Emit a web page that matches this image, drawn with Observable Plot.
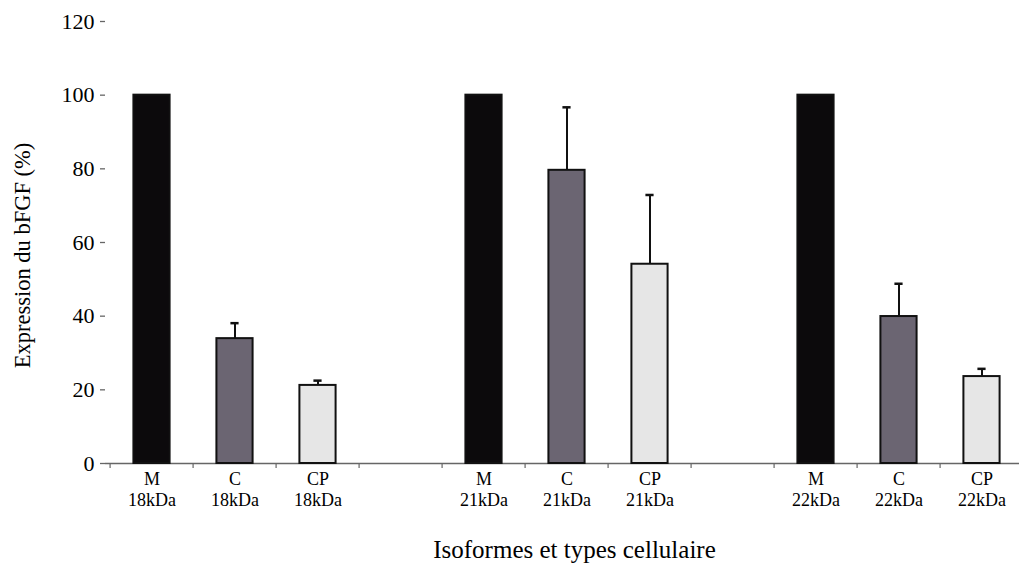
<!DOCTYPE html>
<html>
<head>
<meta charset="utf-8">
<script src="https://cdn.jsdelivr.net/npm/d3@7"></script>
<script src="https://cdn.jsdelivr.net/npm/@observablehq/plot@0.6"></script>
<style>
  html, body { margin: 0; padding: 0; background: #fff; }
</style>
</head>
<body>
<div id="chart"></div>
<script>
// ---- data ----
const isoforms = ["18kDa", "21kDa", "22kDa"];
const cellTypes = ["M", "C", "CP"];
const valuesM = [100, 100, 100];
const valuesC = [33.9, 79.6, 39.9];
const valuesCP = [21.2, 54.1, 23.6];
const errorsC = [4.2, 17.1, 8.9];
const errorsCP = [1.3, 18.8, 2.1];
const yTicks = [0, 20, 40, 60, 80, 100, 120];
const yLabel = "Expression du bFGF (%)";
const xLabel = "Isoformes et types cellulaire";

// ---- styles ----
const fills = { M: "#0c0a0c", C: "#6b6572", CP: "#e6e6e6" };

// ---- build table ----
const valueSets = { M: valuesM, C: valuesC, CP: valuesCP };
const errorSets = { M: null, C: errorsC, CP: errorsCP };
const rows = [];
const slots = [];
isoforms.forEach((iso, i) => {
  if (i > 0) slots.push("gap" + i);
  cellTypes.forEach(t => {
    const key = t + "\n" + iso;
    slots.push(key);
    rows.push({ slot: key, type: t, value: valueSets[t][i], err: errorSets[t] ? errorSets[t][i] : null });
  });
});
const errRows = rows.filter(d => d.err != null);

const width = 1019, height = 575;
const marginLeft = 105;
const xRange = [marginLeft, 1027];
const step = (xRange[1] - xRange[0]) / slots.length;
const barWidth = 37;
const inset = (step - barWidth) / 2;
const capWidth = 9;

const font = "'Liberation Serif', 'Times New Roman', serif";

const chart = Plot.plot({
  width, height,
  marginLeft, marginRight: 0,
  marginTop: 21, marginBottom: 112,
  style: { fontFamily: font, color: "#000", background: "#fff" },
  x: { domain: slots, padding: 0, range: xRange, axis: null },
  y: { domain: [0, 120], axis: null },
  marks: [
    // y axis
    Plot.axisY({ ticks: yTicks, tickSize: 5, tickPadding: 6, fontSize: 22, line: true, stroke: "#666", strokeWidth: 1.3, label: null, color: "#000" }),
    // x axis labels
    Plot.axisX({ tickSize: 0, tickPadding: 7, fontSize: 18, lineHeight: 1.15,
      tickFormat: d => d.startsWith("gap") ? "" : d, label: null }),
    // x boundary ticks
    Plot.axisX({ tickSize: 5, text: null, dx: -step / 2, stroke: "#666", strokeWidth: 1.2, label: null }),
    // x axis line
    Plot.ruleY([0], { stroke: "#666", strokeWidth: 1.5 }),
    // bars
    Plot.barY(rows, { x: "slot", y: "value", fill: d => fills[d.type], stroke: "#111", strokeWidth: 2, insetLeft: inset, insetRight: inset }),
    // error bars
    Plot.ruleX(errRows, { x: "slot", y1: "value", y2: d => d.value + d.err, stroke: "#111", strokeWidth: 2 }),
    Plot.tickY(errRows, { x: "slot", y: d => d.value + d.err, stroke: "#111", strokeWidth: 2.5,
      insetLeft: (step - capWidth) / 2, insetRight: (step - capWidth) / 2 }),
    // axis titles
    Plot.text([yLabel], { frameAnchor: "left", textAnchor: "middle", rotate: -90, dx: -83, dy: 13, fontSize: 22.5, fill: "#000" }),
    Plot.text([xLabel], { frameAnchor: "bottom", textAnchor: "middle", dy: 94, dx: 12, fontSize: 25, fill: "#000" })
  ]
});
document.getElementById("chart").appendChild(chart);
</script>
</body>
</html>
